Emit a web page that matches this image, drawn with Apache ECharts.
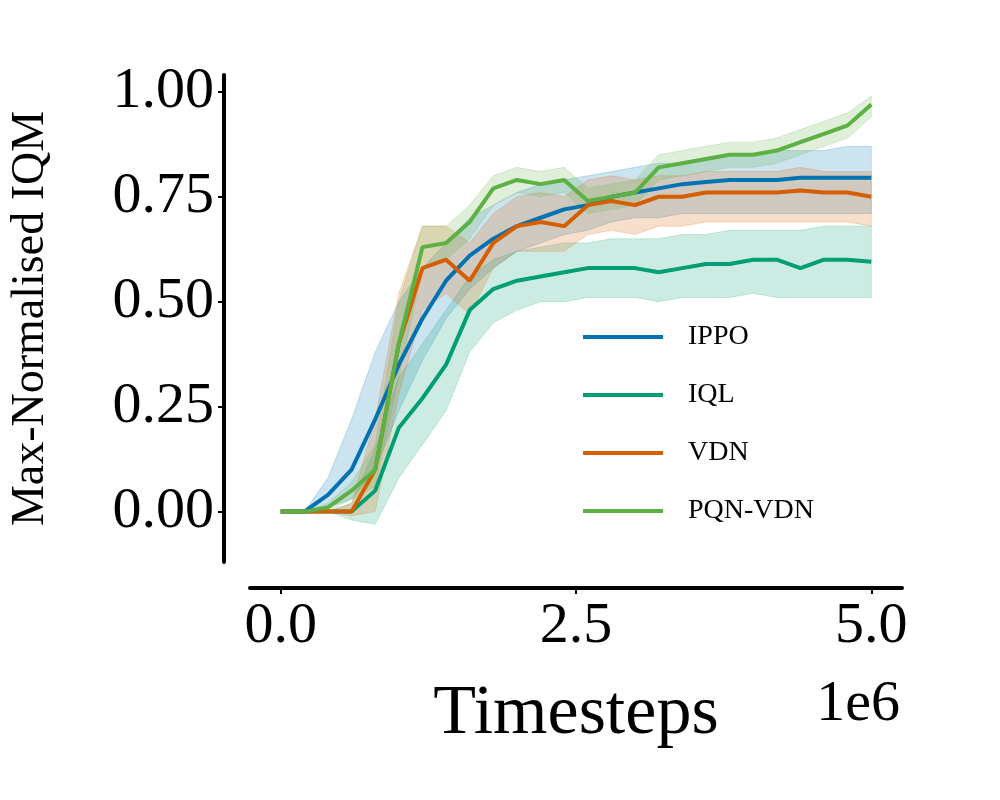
<!DOCTYPE html>
<html>
<head>
<meta charset="utf-8">
<script src="https://cdn.jsdelivr.net/npm/echarts@6/dist/echarts.min.js"></script>
<style>html,body{margin:0;background:#fff}#chart{width:1000px;height:800px}</style>
</head>
<body>
<div id="chart"></div>
<script>
// timesteps (in 1e6)
var steps = [0,0.2,0.4,0.6,0.8,1.0,1.2,1.4,1.6,1.8,2.0,2.2,2.4,2.6,2.8,3.0,3.2,3.4,3.6,3.8,4.0,4.2,4.4,4.6,4.8,5.0];
var xTicks = [0, 2.5, 5];
var yTicks = [0, 0.25, 0.5, 0.75, 1.0];

var ippoMean = [0,0,0.04,0.10,0.22,0.35,0.46,0.55,0.61,0.65,0.68,0.70,0.72,0.73,0.75,0.76,0.77,0.78,0.785,0.79,0.79,0.79,0.795,0.795,0.795,0.795];
var ippoLow  = [0,0,0.01,0.03,0.10,0.24,0.36,0.46,0.53,0.58,0.62,0.64,0.66,0.67,0.69,0.70,0.70,0.71,0.71,0.71,0.71,0.71,0.71,0.71,0.71,0.71];
var ippoHigh = [0,0,0.08,0.22,0.38,0.50,0.58,0.64,0.70,0.73,0.76,0.78,0.79,0.80,0.81,0.82,0.83,0.83,0.84,0.85,0.85,0.86,0.86,0.86,0.87,0.87];

var iqlMean = [0,0,0,0,0.05,0.20,0.27,0.35,0.48,0.53,0.55,0.56,0.57,0.58,0.58,0.58,0.57,0.58,0.59,0.59,0.60,0.60,0.58,0.60,0.60,0.595];
var iqlLow  = [0,0,0,-0.02,-0.03,0.08,0.16,0.24,0.38,0.45,0.48,0.50,0.50,0.51,0.51,0.51,0.50,0.51,0.51,0.51,0.52,0.51,0.51,0.51,0.51,0.51];
var iqlHigh = [0,0,0,0.02,0.15,0.32,0.40,0.48,0.56,0.60,0.62,0.63,0.64,0.64,0.65,0.65,0.65,0.66,0.66,0.67,0.67,0.67,0.67,0.68,0.68,0.68];

var vdnMean = [0,0,0,0,0.10,0.40,0.58,0.60,0.55,0.64,0.68,0.69,0.68,0.73,0.74,0.73,0.75,0.75,0.76,0.76,0.76,0.76,0.765,0.76,0.76,0.75];
var vdnLow  = [0,0,0,-0.01,0.00,0.28,0.48,0.52,0.47,0.58,0.62,0.62,0.62,0.66,0.67,0.66,0.68,0.68,0.69,0.69,0.69,0.69,0.69,0.69,0.69,0.68];
var vdnHigh = [0,0,0,0.02,0.22,0.52,0.68,0.68,0.64,0.71,0.75,0.76,0.75,0.79,0.80,0.79,0.80,0.80,0.81,0.81,0.81,0.81,0.82,0.81,0.81,0.81];

var pqnMean = [0,0,0.01,0.05,0.10,0.40,0.63,0.64,0.69,0.77,0.79,0.78,0.79,0.74,0.75,0.76,0.82,0.83,0.84,0.85,0.85,0.86,0.88,0.90,0.92,0.97];
var pqnLow  = [0,0,0,0.03,0.06,0.32,0.58,0.60,0.65,0.73,0.76,0.75,0.76,0.71,0.72,0.73,0.79,0.80,0.81,0.82,0.82,0.83,0.85,0.87,0.89,0.94];
var pqnHigh = [0,0,0.02,0.07,0.16,0.50,0.68,0.68,0.73,0.80,0.82,0.81,0.82,0.77,0.78,0.79,0.85,0.86,0.87,0.88,0.88,0.89,0.91,0.93,0.95,0.99];

var font = 'Liberation Serif';

function pairs(arr) {
    return steps.map(function(x, i) { return [x, arr[i]]; });
}
// shaded band as one polygon, coordinates from the axes
function band(name, lo, hi, color) {
    return {
        name: name + '-band', type: 'custom', silent: true, z: 1,
        data: [[0, 0]],
        renderItem: function(params, api) {
            var pts = [];
            for (var i = 0; i < steps.length; i++) pts.push(api.coord([steps[i], hi[i]]));
            for (var j = steps.length - 1; j >= 0; j--) pts.push(api.coord([steps[j], lo[j]]));
            return {
                type: 'polygon', shape: {points: pts},
                style: {fill: color, opacity: 0.2, stroke: color, lineWidth: 1}
            };
        }
    };
}
function mean(name, arr, color) {
    return {
        name: name, type: 'line', data: pairs(arr), symbol: 'none',
        itemStyle: {color: color}, lineStyle: {width: 4, color: color}, z: 3
    };
}

var cIppo = '#0072B2', cIql = '#009E73', cVdn = '#D55E00', cPqn = '#5DB043';

var series = [
    band('IPPO', ippoLow, ippoHigh, cIppo),
    band('IQL', iqlLow, iqlHigh, cIql),
    band('VDN', vdnLow, vdnHigh, cVdn),
    band('PQN-VDN', pqnLow, pqnHigh, cPqn),
    mean('IPPO', ippoMean, cIppo), mean('IQL', iqlMean, cIql),
    mean('VDN', vdnMean, cVdn), mean('PQN-VDN', pqnMean, cPqn)
];

echarts.init(document.getElementById('chart')).setOption({
    animation: false,
    textStyle: {fontFamily: font},
    grid: {left: 248, right: 98, top: 75, bottom: 238},
    legend: {
        data: ['IPPO', 'IQL', 'VDN', 'PQN-VDN'],
        orient: 'vertical', left: 578, top: 318,
        icon: 'rect', itemWidth: 80, itemHeight: 4, itemGap: 30,
        textStyle: {fontFamily: font, fontSize: 28, color: '#000', padding: [0, 0, 0, 20]}
    },
    xAxis: {
        type: 'value', min: -0.26, max: 5.26, offset: 26,
        splitLine: {show: false},
        axisLine: {onZero: false, lineStyle: {color: '#000', width: 4}},
        axisTick: {show: true, length: 6, lineStyle: {width: 2, color: '#000'}, customValues: xTicks},
        axisLabel: {customValues: xTicks, fontSize: 58, color: '#000', fontFamily: font, margin: 10,
            formatter: function(v) { return v.toFixed(1); }},
        name: 'Timesteps', nameLocation: 'middle', nameGap: 92,
        nameTextStyle: {fontSize: 70, color: '#000', fontFamily: font}
    },
    yAxis: {
        type: 'value', min: -0.12, max: 1.04, offset: 26,
        splitLine: {show: false},
        axisLine: {show: true, onZero: false, lineStyle: {color: '#000', width: 4}},
        axisTick: {show: true, length: 6, lineStyle: {width: 2, color: '#000'}, customValues: yTicks},
        axisLabel: {customValues: yTicks, fontSize: 58, color: '#000', fontFamily: font, margin: 10,
            formatter: function(v) { return v.toFixed(2); }},
        name: 'Max-Normalised IQM', nameLocation: 'middle', nameGap: 170,
        nameTextStyle: {fontSize: 46, color: '#000', fontFamily: font}
    },
    graphic: [{
        type: 'text', right: 100, top: 676,
        style: {text: '1e6', fontSize: 58, fill: '#000', fontFamily: font}
    }],
    series: series
});
</script>
</body>
</html>
